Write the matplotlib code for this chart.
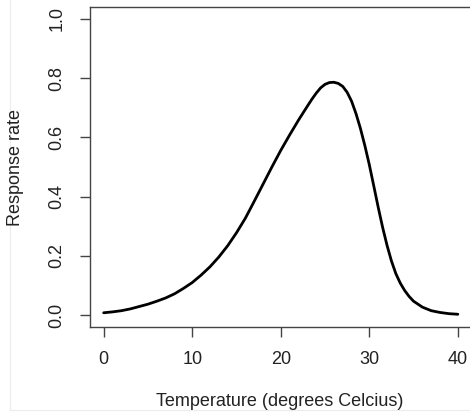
import matplotlib
matplotlib.use("Agg")
import matplotlib.pyplot as plt
from matplotlib.lines import Line2D

# response curve (half-degree steps around the peak)
temperature = [0, 1, 2, 3, 4, 5, 6, 7, 8, 9, 10, 11, 12, 13, 14, 15, 16, 17, 18, 19,
               20, 21, 22, 23, 23.5, 24, 24.5, 25, 25.5, 26, 26.5, 27, 27.5, 28, 28.5,
               29, 29.5, 30, 30.5, 31, 31.5, 32, 32.5, 33, 33.5, 34, 34.5, 35, 36, 37,
               38, 39, 40]
response = [0.008, 0.011, 0.015, 0.021, 0.029, 0.037, 0.047, 0.058, 0.072, 0.090,
            0.110, 0.135, 0.163, 0.196, 0.234, 0.278, 0.327, 0.384, 0.442, 0.500,
            0.556, 0.608, 0.658, 0.705, 0.728, 0.749, 0.767, 0.779, 0.785, 0.786,
            0.782, 0.772, 0.752, 0.722, 0.680, 0.630, 0.572, 0.508, 0.437, 0.365,
            0.297, 0.236, 0.183, 0.140, 0.108, 0.083, 0.063, 0.047, 0.027, 0.015,
            0.009, 0.005, 0.003]

x_ticks = [0, 10, 20, 30, 40]
y_ticks = [0.0, 0.2, 0.4, 0.6, 0.8, 1.0]

plt.rcParams['font.family'] = ['Liberation Sans', 'DejaVu Sans']
text_col = '#222222'
axis_col = '#444444'
fsize = 13

fig = plt.figure(figsize=(4.7, 4.13), dpi=100)
fig.patch.set_facecolor('white')

# faint screenshot border at left and bottom
fig.add_artist(Line2D([10 / 470, 10 / 470], [3 / 413, 1], transform=fig.transFigure,
                      color='#ececec', lw=0.8))
fig.add_artist(Line2D([10 / 470, 1], [3 / 413, 3 / 413], transform=fig.transFigure,
                      color='#ececec', lw=0.8))

# the plot box runs a little past the right edge, like the cropped original
ax = fig.add_axes([89.5 / 470, 86 / 413, 382.5 / 470, 320 / 413])
ax.plot(temperature, response, color='black', lw=2.0, solid_capstyle='round',
        solid_joinstyle='round')

ax.set_xlim(-1.6, 41.6)
ax.set_ylim(-0.04, 1.04)
ax.set_xticks(x_ticks)
ax.set_yticks(y_ticks)
ax.set_xticklabels([str(t) for t in x_ticks])
ax.set_yticklabels([f"{t:.1f}" for t in y_ticks], rotation=90, va='center')

for side in ['left', 'top', 'bottom', 'right']:
    ax.spines[side].set_color(axis_col)
    ax.spines[side].set_linewidth(1.0)

ax.tick_params(axis='both', direction='out', length=7.5, width=1.0, color=axis_col,
               labelsize=fsize, labelcolor=text_col)
ax.tick_params(axis='x', pad=10)
ax.tick_params(axis='y', pad=10)

fig.text(280 / 470, 1 - 406.5 / 413, "Temperature (degrees Celcius)", ha='center',
         va='baseline', fontsize=fsize, color=text_col)
fig.text(16 / 470, 1 - 167.5 / 413, "Response rate", ha='center', va='center', rotation=90,
         fontsize=fsize, color=text_col)

fig.savefig("out.png", dpi=100)
